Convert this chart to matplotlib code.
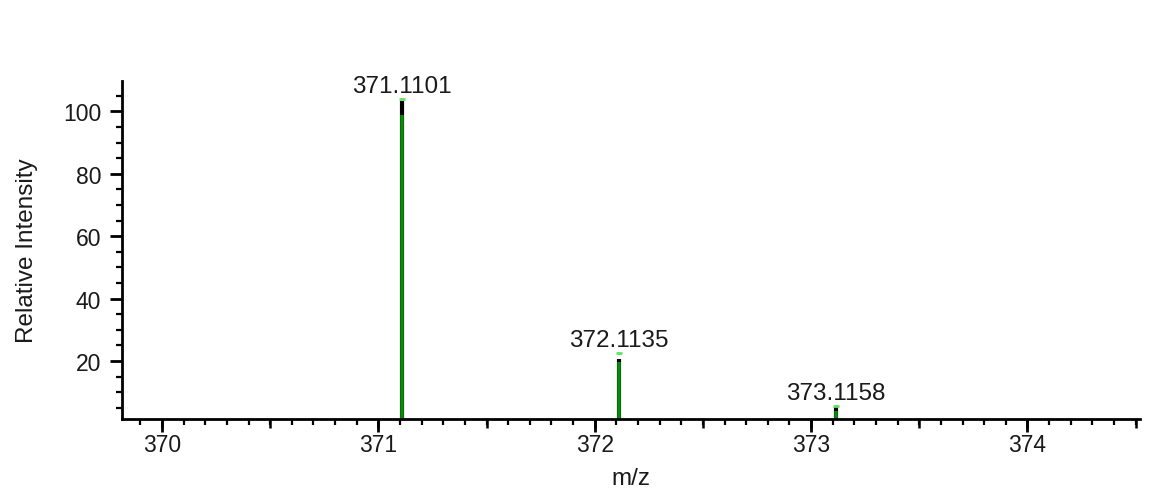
import matplotlib.pyplot as plt
from matplotlib.ticker import MultipleLocator, FixedLocator, NullFormatter

plt.rcParams['font.family'] = ['Liberation Sans', 'DejaVu Sans']

# measured spectrum (black) and theoretical pattern (green)
mz = [371.1101, 372.1135, 373.1158]
exp_int = [103.2, 20.6, 5.3]
theo_int = [99.0, 19.7, 4.0]
theo_top = [104.0, 22.5, 5.7]
peak_labels = ['371.1101', '372.1135', '373.1158']

fig = plt.figure(figsize=(11.53, 4.89), dpi=100)
ax = fig.add_axes([0.1058, 0.141, 0.8829, 0.691])

ax.vlines(mz, 0, exp_int, color='black', lw=3)
ax.vlines(mz, 0, theo_int, color='#0a8a0a', lw=2.6)
ax.plot(mz, theo_top, ls='none', marker='_', ms=4, mew=2, color='#5fe35f')

for x, y, lab in zip(mz, theo_top, peak_labels):
    ax.annotate(lab, (x, y), xytext=(0, 1.5), textcoords='offset points',
                ha='center', va='bottom', fontsize=17.5, color='#1a1a1a')

ax.set_xlim(369.815, 374.52)
ax.set_ylim(1.4, 109.7)

for s in ['top', 'right']:
    ax.spines[s].set_visible(False)
for s in ['left', 'bottom']:
    ax.spines[s].set_linewidth(2)

ax.xaxis.set_major_locator(MultipleLocator(1))
ax.xaxis.set_minor_locator(MultipleLocator(0.1))
ax.yaxis.set_major_locator(FixedLocator([20, 40, 60, 80, 100]))
ax.yaxis.set_minor_locator(MultipleLocator(5))
ax.tick_params(which='major', length=9, width=2, labelsize=16.5,
               color='black', labelcolor='#1a1a1a')
ax.tick_params(which='minor', length=4, width=1.6)
ax.tick_params(axis='x', pad=1)
ax.tick_params(axis='y', pad=6)

# medium ticks at half units
sec = ax.secondary_xaxis('bottom')
sec.xaxis.set_major_locator(MultipleLocator(0.5))
sec.xaxis.set_major_formatter(NullFormatter())
sec.spines['bottom'].set_visible(False)
sec.tick_params(which='major', length=6.5, width=1.8)

ax.set_xlabel('m/z', fontsize=17.5, labelpad=8, color='#1a1a1a')
ax.set_ylabel('Relative Intensity', fontsize=17.5, labelpad=18, color='#1a1a1a')

fig.savefig('out.png', dpi=100)
